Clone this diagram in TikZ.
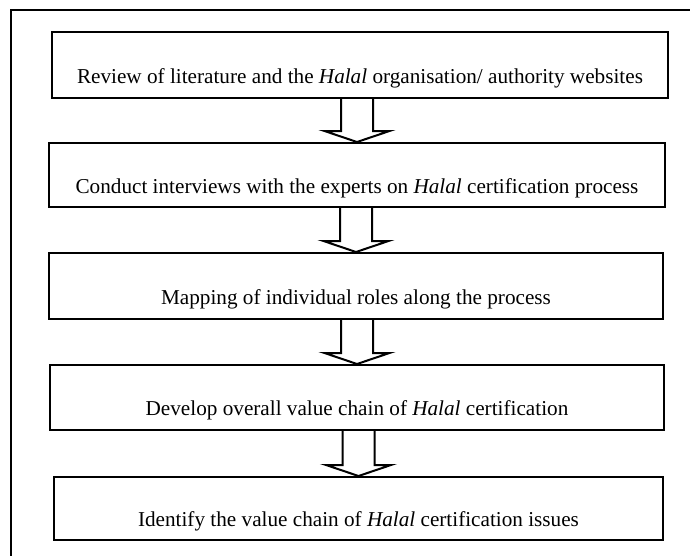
\documentclass[tikz,border=0pt]{standalone}
\usepackage{fontspec}
\setmainfont{Liberation Serif}
\usetikzlibrary{calc}
\newcommand{\hollowarrow}[2]{%
\draw[blockarrow] let \p1=(#1.south), \p2=(#2.north) in
(\x2-8pt,\y1)--(\x2-8pt,\y2+5.5pt)--(\x2-16.25pt,\y2+5.5pt)--(\x2,\y2)
--(\x2+16.25pt,\y2+5.5pt)--(\x2+8pt,\y2+5.5pt)--(\x2+8pt,\y1);}
\begin{document}
\begin{tikzpicture}[x=0.5pt,y=-0.5pt,
stage/.style={draw, line width=1pt, align=center, inner sep=0pt,
font=\fontsize{10.6}{12}\selectfont},
blockarrow/.style={line width=1pt, line join=miter}]
\useasboundingbox (0,0) rectangle (690,556);
\draw[line width=1pt] (11,570)--(11,10)--(700,10);
\node[stage, minimum width=308pt, minimum height=33pt] (review) at (360,65)
{\strut\\Review of literature and the \textit{Halal} organisation/ authority websites};
\node[stage, minimum width=308pt, minimum height=32pt] (interview) at (357,175)
{\strut\\Conduct interviews with the experts on \textit{Halal} certification process};
\node[stage, minimum width=307pt, minimum height=33pt] (mapping) at (356,286)
{\strut\\Mapping of individual roles along the process};
\node[stage, minimum width=307pt, minimum height=32.5pt] (develop) at (357,397.5)
{\strut\\Develop overall value chain of \textit{Halal} certification};
\node[stage, minimum width=304.5pt, minimum height=31.5pt] (identify) at (358.5,508.5)
{\strut\\Identify the value chain of \textit{Halal} certification issues};
\hollowarrow{review}{interview}
\hollowarrow{interview}{mapping}
\hollowarrow{mapping}{develop}
\hollowarrow{develop}{identify}
\end{tikzpicture}
\end{document}
